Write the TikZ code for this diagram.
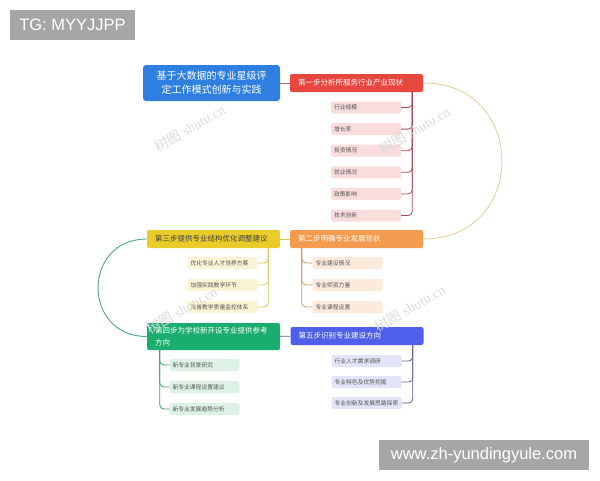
\documentclass[tikz,border=0pt]{standalone}
\usepackage{fontspec}
\setmainfont{Noto Sans CJK SC}
\newfontfamily\tagfont{Liberation Sans}
\newfontfamily\markfont{Liberation Serif}
\usetikzlibrary{positioning}
\definecolor{rootblue}{HTML}{2F7FE1}
\definecolor{stepred}{HTML}{E8473E}
\definecolor{steporange}{HTML}{F39B4E}
\definecolor{stepyellow}{HTML}{E9CC2A}
\definecolor{stepgreen}{HTML}{19AE6E}
\definecolor{stepblue}{HTML}{4E5FE9}
\definecolor{arctan}{HTML}{E7CF9F}
\definecolor{arcteal}{HTML}{4FA597}
\definecolor{trunkred}{HTML}{A84A55}
\definecolor{trunkorange}{HTML}{D0925A}
\definecolor{trunkyellow}{HTML}{D9C655}
\definecolor{trunkgreen}{HTML}{3F9B62}
\definecolor{trunkblue}{HTML}{5C5F96}
\definecolor{leafred}{HTML}{F9DCDC}
\definecolor{leaforange}{HTML}{FCEADC}
\definecolor{leafyellow}{HTML}{FBF4D4}
\definecolor{leafgreen}{HTML}{DDF2E5}
\definecolor{leafblue}{HTML}{E2E4F7}
\definecolor{leaftext}{HTML}{555555}
\definecolor{taggray}{HTML}{A6A6A6}
\tikzstyle{root} = [rectangle, rounded corners=3pt, fill=rootblue, text=white, minimum width=137pt, minimum height=36pt, text width=125pt, align=center, font=\fontsize{10}{14}\selectfont]
\tikzstyle{stepbox} = [rectangle, rounded corners=2pt, text=white, text width=117pt, inner xsep=8pt, minimum height=18pt, align=left, font=\fontsize{7.5}{11.5}\selectfont]
\tikzstyle{leaf} = [rectangle, rounded corners=2pt, text=leaftext, text width=64pt, inner xsep=3pt, inner ysep=0pt, minimum height=12pt, align=left, font=\fontsize{5.8}{7}\selectfont]
\tikzstyle{trunk} = [draw, line width=0.8pt, rounded corners=4pt]
\tikzstyle{arc} = [draw, line width=0.9pt]
\tikzstyle{tagbox} = [rectangle, fill=taggray, text=white, minimum height=30pt, font=\tagfont\fontsize{16.5}{18}\selectfont]
\tikzstyle{wmark} = [rotate=30, text=black!14, font=\fontsize{14}{14}\selectfont]

\begin{document}
\begin{tikzpicture}[x=1pt, y=-1pt]
	\useasboundingbox (0,0) rectangle (600,480);

	% title node
	\node [root] (N0) at (211.5,83) {基于大数据的专业星级评\\定工作模式创新与实践};

	% place steps
	\node [stepbox, fill=stepred]    (N1) at (356.5,83)  {第一步分析所服务行业产业现状};
	\node [stepbox, fill=steporange] (N2) at (356.5,239) {第二步明确专业发展现状};
	\node [stepbox, fill=stepyellow, text=black!75] (N3) at (213.5,239) {第三步提供专业结构优化调整建议};
	\node [stepbox, fill=stepgreen, minimum height=27pt] (N4) at (213.5,336.5) {第四步为学校新开设专业提供参考\\方向};
	\node [stepbox, fill=stepblue]   (N5) at (357,336) {第五步识别专业建设方向};

	% place leaves of step one
	\node [leaf, fill=leafred] (L11) at (366,107.5) {行业规模};
	\node [leaf, fill=leafred, below of=L11, node distance=21.6pt] (L12) {增长率};
	\node [leaf, fill=leafred, below of=L12, node distance=21.6pt] (L13) {投资情况};
	\node [leaf, fill=leafred, below of=L13, node distance=21.6pt] (L14) {就业情况};
	\node [leaf, fill=leafred, below of=L14, node distance=21.6pt] (L15) {政策影响};
	\node [leaf, fill=leafred, below of=L15, node distance=21.6pt] (L16) {技术创新};

	% place leaves of step two
	\node [leaf, fill=leaforange] (L21) at (347.5,263) {专业建设情况};
	\node [leaf, fill=leaforange, below of=L21, node distance=22pt] (L22) {专业师资力量};
	\node [leaf, fill=leaforange, below of=L22, node distance=22pt] (L23) {专业课程设置};

	% place leaves of step three
	\node [leaf, fill=leafyellow] (L31) at (222.5,263) {优化专业人才培养方案};
	\node [leaf, fill=leafyellow, below of=L31, node distance=22pt] (L32) {加强实践教学环节};
	\node [leaf, fill=leafyellow, below of=L32, node distance=22pt] (L33) {完善教学质量监控体系};

	% place leaves of step four
	\node [leaf, fill=leafgreen] (L41) at (204.5,365) {新专业背景研究};
	\node [leaf, fill=leafgreen, below of=L41, node distance=22pt] (L42) {新专业课程设置建议};
	\node [leaf, fill=leafgreen, below of=L42, node distance=22pt] (L43) {新专业发展趋势分析};

	% place leaves of step five
	\node [leaf, fill=leafblue] (L51) at (366.5,361) {行业人才需求调研};
	\node [leaf, fill=leafblue, below of=L51, node distance=21pt] (L52) {专业特色及优势挖掘};
	\node [leaf, fill=leafblue, below of=L52, node distance=21pt] (L53) {专业创新及发展思路探索};

	% trunk roots
	\coordinate [xshift=-11pt] (T1) at (N1.south east);
	\coordinate [xshift=12pt]  (T2) at (N2.south west);
	\coordinate [xshift=-12pt] (T3) at (N3.south east);
	\coordinate [xshift=13pt]  (T4) at (N4.south west);
	\coordinate [xshift=-11pt] (T5) at (N5.south east);

	% draw edges
	\path [trunk, draw=trunkred!80] (N0) -- (N1);
	\path [trunk, draw=trunkyellow] (N3) -- (N2);
	\path [trunk, draw=trunkblue] (N4) -- (N5);
	\path [arc, draw=arctan] (N1.east) .. controls +(105,0) and +(105,0) .. (N2.east);
	\path [arc, draw=arcteal] (N3.west) .. controls +(-65,0) and +(-65,0) .. (N4.west);

	\path [trunk, draw=trunkred] (T1) |- (L11.east);
	\path [trunk, draw=trunkred] (T1) |- (L12.east);
	\path [trunk, draw=trunkred] (T1) |- (L13.east);
	\path [trunk, draw=trunkred] (T1) |- (L14.east);
	\path [trunk, draw=trunkred] (T1) |- (L15.east);
	\path [trunk, draw=trunkred] (T1) |- (L16.east);

	\path [trunk, draw=trunkorange] (T2) |- (L21.west);
	\path [trunk, draw=trunkorange] (T2) |- (L22.west);
	\path [trunk, draw=trunkorange] (T2) |- (L23.west);

	\path [trunk, draw=trunkyellow] (T3) |- (L31.east);
	\path [trunk, draw=trunkyellow] (T3) |- (L32.east);
	\path [trunk, draw=trunkyellow] (T3) |- (L33.east);

	\path [trunk, draw=trunkgreen] (T4) |- (L41.west);
	\path [trunk, draw=trunkgreen] (T4) |- (L42.west);
	\path [trunk, draw=trunkgreen] (T4) |- (L43.west);

	\path [trunk, draw=trunkblue] (T5) |- (L51.east);
	\path [trunk, draw=trunkblue] (T5) |- (L52.east);
	\path [trunk, draw=trunkblue] (T5) |- (L53.east);

	% watermarks
	\node [wmark] (W1) at (190,128) {树图 {\markfont shutu.cn}};
	\node [wmark] (W2) at (415,130) {树图 {\markfont shutu.cn}};
	\node [wmark] (W3) at (182,310) {树图 {\markfont shutu.cn}};
	\node [wmark] (W4) at (410,308) {树图 {\markfont shutu.cn}};

	% tag boxes
	\node [tagbox, minimum width=125pt] (G1) at (72.5,25) {TG: MYYJJPP};
	\node [tagbox, minimum width=210pt] (G2) at (484,455) {www.zh-yundingyule.com};
\end{tikzpicture}
\end{document}
